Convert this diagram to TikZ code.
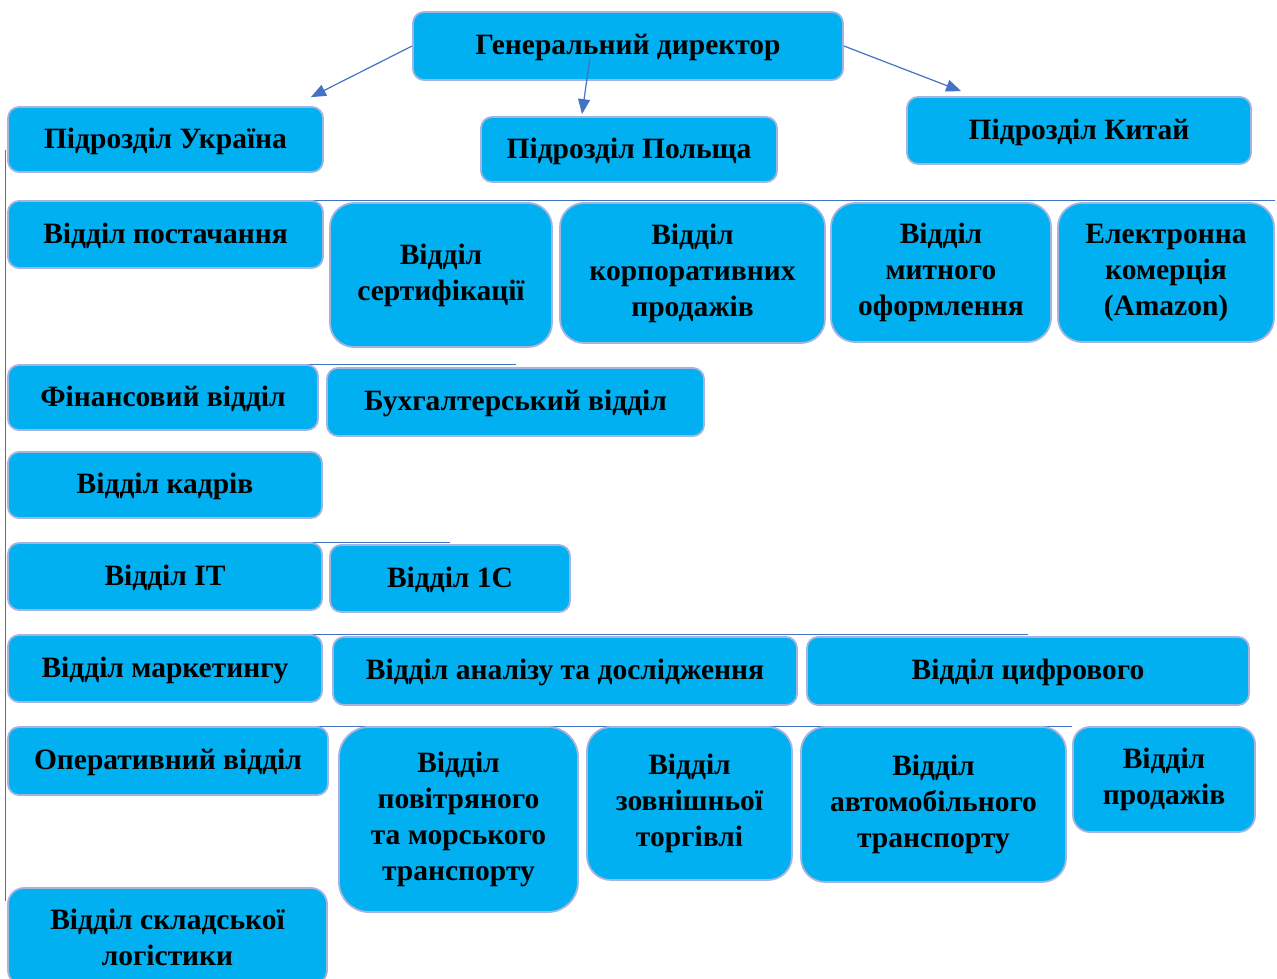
\documentclass[tikz,border=0pt]{standalone}
\usepackage{fontspec}
\setmainfont{Liberation Serif}
\usetikzlibrary{arrows.meta, backgrounds}
\definecolor{unitcyan}{HTML}{00B0F0}
\definecolor{unitedge}{HTML}{A4B4DE}
\definecolor{linkblue}{HTML}{4472C4}

\begin{document}
\begin{tikzpicture}[x=1pt, y=-1pt,
  unit/.style={draw=unitedge, line width=1.8pt, fill=unitcyan, rounded corners=11pt,
    align=center, inner sep=0pt, font=\bfseries\fontsize{29.5}{36}\selectfont},
  oneline/.style={unit, text height=20pt, text depth=3pt},
  tallunit/.style={unit, rounded corners=24pt},
  link/.style={draw=linkblue, line width=1.2pt},
  arrowlink/.style={link, -{Triangle[length=15pt,width=12pt]}}]
  \useasboundingbox (0,0) rectangle (1277,978);

  % Top level
  \node[oneline, minimum width=430pt, minimum height=68pt] (director) at (628,46) {Генеральний директор};
  \node[oneline, minimum width=315pt, minimum height=65pt] (ukraine) at (165.5,139.5) {Підрозділ Україна};
  \node[oneline, minimum width=296pt, minimum height=65pt] (poland) at (629,149.5) {Підрозділ Польща};
  \node[oneline, minimum width=344pt, minimum height=67pt] (china) at (1079,130.5) {Підрозділ Китай};

  \draw[arrowlink] (director.west) -- ([xshift=-13pt,yshift=9pt]ukraine.north east);
  \draw[arrowlink] ([xshift=-38pt,yshift=-11pt]director.center) -- ([xshift=-47pt,yshift=2pt]poland.north);
  \draw[arrowlink] (director.east) -- ([xshift=55pt,yshift=5pt]china.north west);

  % Supply row
  \node[oneline, minimum width=315pt, minimum height=67pt] (supply) at (165.5,234.5) {Відділ постачання};
  \node[tallunit, minimum width=222pt, minimum height=144pt] (cert) at (441,275) {Відділ\\сертифікації};
  \node[tallunit, minimum width=265pt, minimum height=140pt] (corpsales) at (692.5,273) {Відділ\\корпоративних\\продажів};
  \node[tallunit, minimum width=220pt, minimum height=139pt] (customs) at (941,272.5) {Відділ\\митного\\оформлення};
  \node[tallunit, minimum width=216pt, minimum height=139pt] (ecom) at (1166,272.5) {Електронна\\комерція\\(Amazon)};

  % Finance, HR, IT
  \node[oneline, minimum width=310pt, minimum height=65pt] (finance) at (163,397.5) {Фінансовий відділ};
  \node[oneline, minimum width=377pt, minimum height=68pt] (accounting) at (515.5,402) {Бухгалтерський відділ};
  \node[oneline, minimum width=314pt, minimum height=66pt] (hr) at (165,485) {Відділ кадрів};
  \node[oneline, minimum width=314pt, minimum height=67pt] (it) at (165,576.5) {Відділ IT};
  \node[oneline, minimum width=240pt, minimum height=67pt] (onec) at (450,578.5) {Відділ 1C};

  % Marketing row
  \node[oneline, minimum width=314pt, minimum height=67pt] (marketing) at (165,668.5) {Відділ маркетингу};
  \node[oneline, minimum width=464pt, minimum height=68pt] (research) at (565,671) {Відділ аналізу та дослідження};
  \node[oneline, minimum width=442pt, minimum height=68pt] (digital) at (1028,671) {Відділ цифрового};

  % Operations row
  \node[oneline, minimum width=320pt, minimum height=68pt] (oper) at (168,761) {Оперативний відділ};
  \node[tallunit, rounded corners=30pt, minimum width=239pt, minimum height=185pt] (airsea) at (458.5,819.5) {Відділ\\повітряного\\та морського\\транспорту};
  \node[tallunit, minimum width=205pt, minimum height=153pt] (trade) at (689.5,803.5) {Відділ\\зовнішньої\\торгівлі};
  \node[tallunit, minimum width=265pt, minimum height=155pt] (auto) at (933.5,804.5) {Відділ\\автомобільного\\транспорту};
  \node[unit, rounded corners=17pt, minimum width=182pt, minimum height=105pt] (sales) at (1164,779.5) {Відділ\\продажів};
  \node[unit, rounded corners=16pt, minimum width=319pt, minimum height=98pt] (store) at (167.5,937) {Відділ складської\\логістики};

  % Connectors behind the boxes
  \begin{scope}[on background layer]
    \draw[link] ([xshift=-2pt,yshift=-10pt]ukraine.west) -- ([xshift=-2pt,yshift=-14pt]store.north west);
    \draw[link] (supply.north) -- (supply.north -| ecom.east);
    \draw[link] (finance.north) -- (finance.north -| accounting.center);
    \draw[link] (it.north) -- (it.north -| onec.center);
    \draw[link] (marketing.north) -- (marketing.north -| digital.center);
    \draw[link] (oper.north) -- (oper.north -| sales.west);
  \end{scope}
\end{tikzpicture}
\end{document}
